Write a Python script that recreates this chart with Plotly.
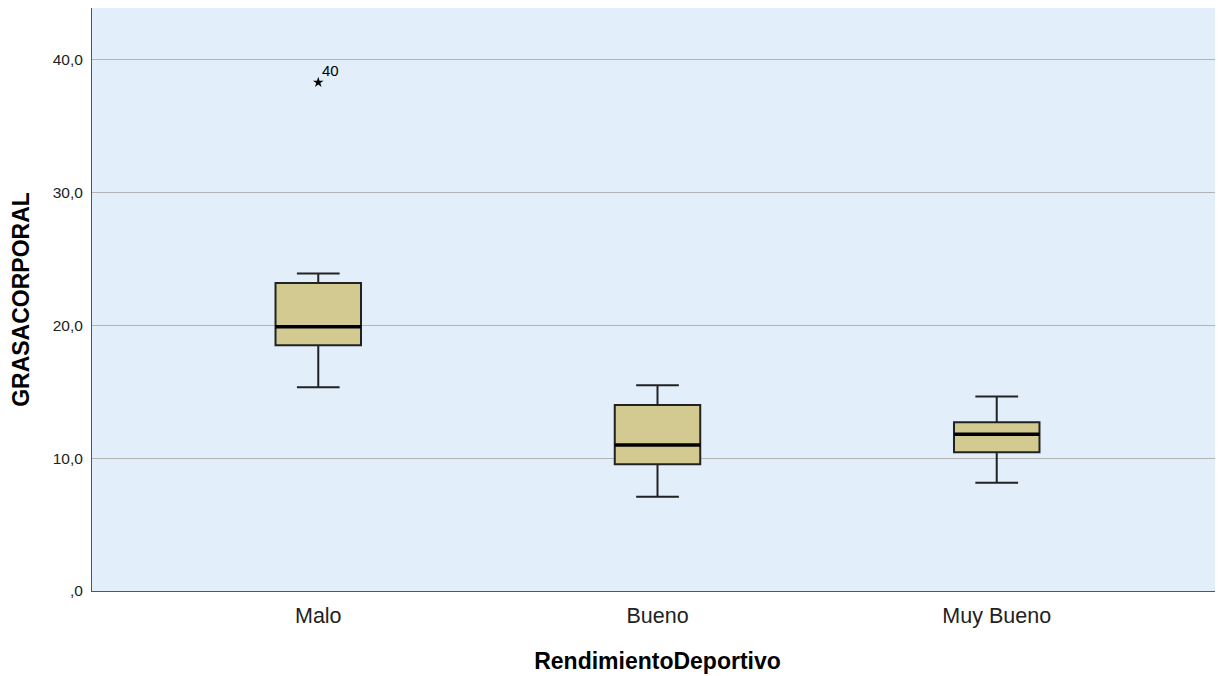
import plotly.graph_objects as go

categories = ["Malo", "Bueno", "Muy Bueno"]
lower_whisker = [15.35, 7.1, 8.15]
q1 = [18.5, 9.55, 10.45]
median = [19.9, 11.0, 11.8]
q3 = [23.2, 14.0, 12.7]
upper_whisker = [23.9, 15.5, 14.65]
outlier_cat = [0]
outlier_val = [38.3]
outlier_lbl = ["40"]
ytick_vals = [0, 10, 20, 30, 40]
ytick_text = [",0", "10,0", "20,0", "30,0", "40,0"]

pos = list(range(len(categories)))
box_w = 0.252

fig = go.Figure()
fig.add_trace(go.Box(
    x=pos, q1=q1, median=median, q3=q3,
    lowerfence=lower_whisker, upperfence=upper_whisker,
    width=box_w, whiskerwidth=0.5,
    fillcolor="#D3CA91", line=dict(color="#222222", width=2),
    boxpoints=False, showlegend=False, hoverinfo="skip",
))
# thick median lines
mx, my = [], []
for p, m in zip(pos, median):
    mx += [p - box_w / 2, p + box_w / 2, None]
    my += [m, m, None]
fig.add_trace(go.Scatter(x=mx, y=my, mode="lines",
                         line=dict(color="black", width=3.5),
                         showlegend=False, hoverinfo="skip"))
fig.add_trace(go.Scatter(
    x=outlier_cat, y=outlier_val, mode="markers",
    marker=dict(symbol="star", size=8, color="black"),
    showlegend=False, hoverinfo="skip"))
for c, v, t in zip(outlier_cat, outlier_val, outlier_lbl):
    fig.add_annotation(x=c, y=v, text=t, showarrow=False,
                       xanchor="left", yanchor="bottom", xshift=2, yshift=1,
                       font=dict(family="Liberation Sans, Arial", size=15, color="black"))

fig.update_layout(
    width=1215, height=668,
    margin=dict(l=84, r=0, t=0, b=85),
    paper_bgcolor="white", plot_bgcolor="#E2EEFA",
    font=dict(family="Liberation Sans, Arial", color="black"),
)
fig.update_xaxes(
    range=[-0.667, 2.667], tickvals=pos, ticktext=categories,
    tickfont=dict(size=21.5, color="#222222"), ticks="", ticklabelstandoff=5,
    showgrid=False, zeroline=False, showline=True, linecolor="#555555", linewidth=1,
    title=dict(text="<b>RendimientoDeportivo</b>", font=dict(size=23), standoff=26),
)
fig.update_yaxes(
    range=[0, 43.9], tickvals=ytick_vals, ticktext=ytick_text,
    tickfont=dict(size=15.5, color="#222222"), ticks="", ticklabelstandoff=5,
    showgrid=True, gridcolor="#B4B4B4", gridwidth=1, zeroline=False,
    showline=True, linecolor="#555555", linewidth=1,
    title=dict(text="<b>GRASACORPORAL</b>", font=dict(size=23), standoff=16),
)
fig.write_html("out.html")
